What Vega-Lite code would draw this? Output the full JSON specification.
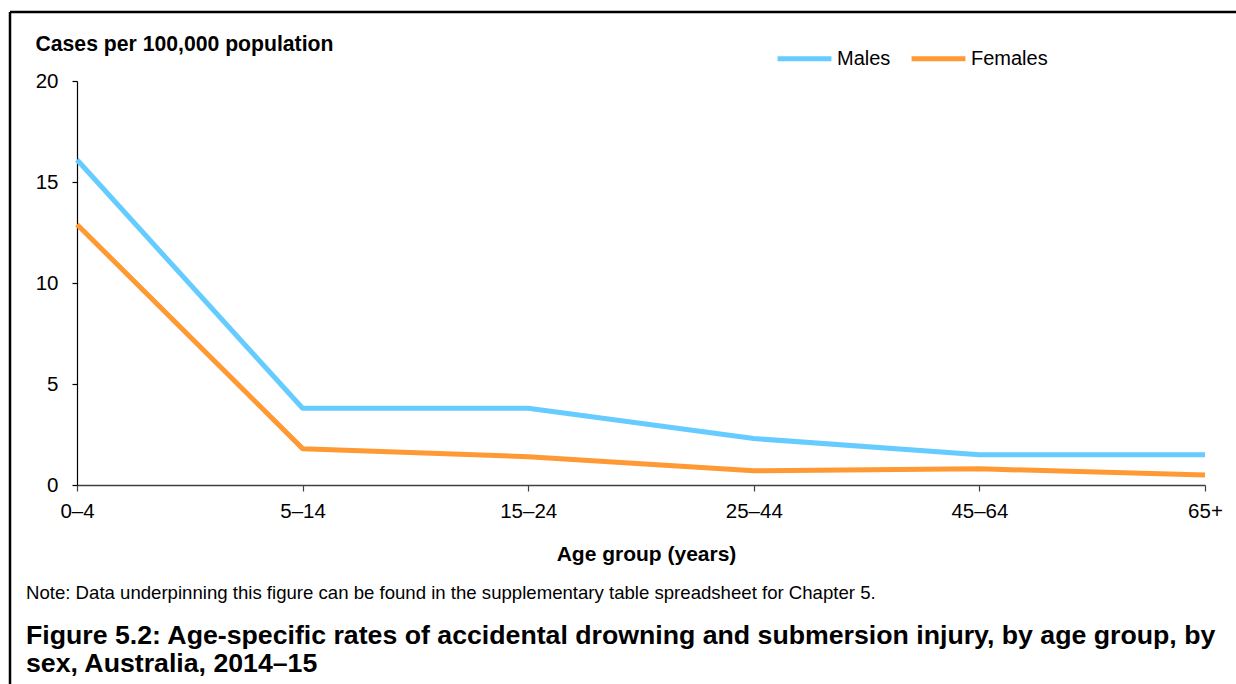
{
  "$schema": "https://vega.github.io/schema/vega-lite/v6.json",
  "width": 1128,
  "height": 404,
  "autosize": {"type": "none"},
  "padding": {"left": 77, "top": 81, "right": 31, "bottom": 199},
  "background": "white",
  "config": {
    "font": "Liberation Sans",
    "view": {"stroke": null}
  },
  "title": {
    "text": "Note: Data underpinning this figure can be found in the supplementary table spreadsheet for Chapter 5.",
    "subtitle": ["Figure 5.2: Age-specific rates of accidental drowning and submersion injury, by age group, by", "sex, Australia, 2014–15"],
    "orient": "bottom",
    "anchor": "start",
    "frame": "group",
    "dx": -51,
    "offset": -101,
    "font": "Liberation Sans",
    "fontSize": 18.6,
    "fontWeight": "normal",
    "color": "black",
    "subtitleFont": "Liberation Sans",
    "subtitleFontSize": 26.7,
    "subtitleFontWeight": "bold",
    "subtitleColor": "black",
    "subtitleLineHeight": 28,
    "subtitlePadding": 20
  },
  "datasets": {
    "rates": [
      {"age": "0–4", "sex": "Males", "rate": 16.1},
      {"age": "5–14", "sex": "Males", "rate": 3.8},
      {"age": "15–24", "sex": "Males", "rate": 3.8},
      {"age": "25–44", "sex": "Males", "rate": 2.3},
      {"age": "45–64", "sex": "Males", "rate": 1.5},
      {"age": "65+", "sex": "Males", "rate": 1.5},
      {"age": "0–4", "sex": "Females", "rate": 12.9},
      {"age": "5–14", "sex": "Females", "rate": 1.8},
      {"age": "15–24", "sex": "Females", "rate": 1.4},
      {"age": "25–44", "sex": "Females", "rate": 0.7},
      {"age": "45–64", "sex": "Females", "rate": 0.8},
      {"age": "65+", "sex": "Females", "rate": 0.5}
    ]
  },
  "layer": [
    {
      "data": {"name": "rates"},
      "mark": {"type": "line", "strokeWidth": 5, "strokeCap": "butt", "strokeJoin": "round"},
      "encoding": {
        "x": {
          "field": "age",
          "type": "ordinal",
          "sort": ["0–4", "5–14", "15–24", "25–44", "45–64", "65+"],
          "scale": {"type": "point", "padding": 0},
          "axis": {
            "title": "Age group (years)",
            "titleFontSize": 21,
            "titleFontWeight": "bold",
            "titleColor": "black",
            "titleX": 569,
            "titleY": 75,
            "titleBaseline": "alphabetic",
            "titleAlign": "center",
            "labelFontSize": 20.5,
            "labelColor": "black",
            "labelAngle": 0,
            "labelPadding": 10,
            "labelOverlap": false,
            "labelBound": false,
            "labelFlush": false,
            "domainColor": "#404040",
            "domainWidth": 1.5,
            "tickColor": "#404040",
            "tickSize": 6,
            "tickWidth": 1.2,
            "grid": false
          }
        },
        "y": {
          "field": "rate",
          "type": "quantitative",
          "scale": {"domain": [0, 20], "nice": false, "zero": true},
          "axis": {
            "title": "Cases per 100,000 population",
            "titleFontSize": 21.2,
            "titleFontWeight": "bold",
            "titleColor": "black",
            "titleAngle": 0,
            "titleAlign": "left",
            "titleBaseline": "alphabetic",
            "titleX": -42,
            "titleY": -31,
            "values": [0, 5, 10, 15, 20],
            "labelFontSize": 20.5,
            "labelColor": "black",
            "labelPadding": 14,
            "domainColor": "black",
            "domainWidth": 1.2,
            "tickColor": "black",
            "tickSize": 5,
            "tickWidth": 1.2,
            "grid": false
          }
        },
        "color": {
          "field": "sex",
          "type": "nominal",
          "scale": {"domain": ["Males", "Females"], "range": ["#66CCFF", "#FF9933"]},
          "legend": {
            "title": null,
            "orient": "none",
            "direction": "horizontal",
            "legendX": 698,
            "legendY": -52,
            "symbolType": "stroke",
            "symbolSize": 2900,
            "symbolStrokeWidth": 5,
            "labelFontSize": 20,
            "labelColor": "black",
            "labelOffset": 3,
            "columnPadding": 10
          }
        }
      }
    },
    {
      "data": {"values": [{}]},
      "mark": {"type": "rule", "color": "black", "strokeWidth": 2.5},
      "encoding": {
        "x": {"value": -67},
        "x2": {"value": 1159},
        "y": {"value": -69},
        "y2": {"value": -69}
      }
    },
    {
      "data": {"values": [{}]},
      "mark": {"type": "rule", "color": "black", "strokeWidth": 2.5},
      "encoding": {
        "x": {"value": -67},
        "x2": {"value": -67},
        "y": {"value": -69},
        "y2": {"value": 603}
      }
    }
  ]
}
